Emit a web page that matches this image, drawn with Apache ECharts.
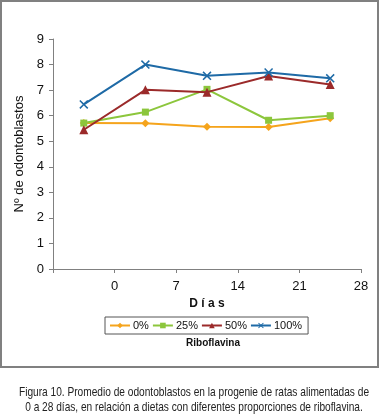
<!DOCTYPE html>
<html>
<head>
<meta charset="utf-8">
<script src="https://cdn.jsdelivr.net/npm/echarts@6/dist/echarts.min.js"></script>
<style>html,body{margin:0;padding:0;background:#fff}#c{width:380px;height:416px}</style>
</head>
<body>
<div id="c"></div>
<script>
// Data
const xPositions = [-3.5, 3.5, 10.5, 17.5, 24.5];
const xTickLabels = [0, 7, 14, 21, 28];
const seriesNames = ['0%', '25%', '50%', '100%'];
const s0 = [5.71, 5.70, 5.57, 5.56, 5.90];
const s25 = [5.71, 6.14, 7.03, 5.82, 6.00];
const s50 = [5.45, 7.01, 6.92, 7.55, 7.22];
const s100 = [6.44, 8.00, 7.56, 7.69, 7.46];
const yTicks = [0, 1, 2, 3, 4, 5, 6, 7, 8, 9];

const colors = ['#f5a41c', '#8cc63c', '#9b2a2a', '#1e6aa6'];
const symbols = ['diamond', 'rect', 'triangle',
  'path://M0,1.2L1.2,0L5,3.8L8.8,0L10,1.2L6.2,5L10,8.8L8.8,10L5,6.2L1.2,10L0,8.8L3.8,5Z'];
const symbolSizes = [8, 7, 9, 9];
const allData = [s0, s25, s50, s100];

const chart = echarts.init(document.getElementById('c'), null, {renderer: 'canvas'});
const font = 'Liberation Sans, Arial, sans-serif';
chart.setOption({
  animation: false,
  color: colors,
  grid: {left: 53, right: 19, top: 39, bottom: 147, containLabel: false},
  xAxis: {
    type: 'value', min: -7, max: 28, interval: 7,
    name: 'D í a s', nameLocation: 'middle', nameGap: 27,
    nameTextStyle: {fontFamily: font, fontSize: 12, fontWeight: 'bold', color: '#111'},
    axisLine: {show: true, onZero: false, lineStyle: {color: '#808080', width: 1}},
    axisTick: {show: true, length: 4, lineStyle: {color: '#808080'}},
    splitLine: {show: false},
    axisLabel: {
      fontFamily: font, fontSize: 13, color: '#111', margin: 11,
      formatter: v => (xTickLabels.indexOf(v) >= 0 ? String(v) : '')
    }
  },
  yAxis: {
    type: 'value', min: yTicks[0], max: yTicks[yTicks.length - 1], interval: 1,
    name: 'Nº de odontoblastos', nameLocation: 'middle', nameGap: 22, nameRotate: 90,
    nameTextStyle: {fontFamily: font, fontSize: 13, color: '#111'},
    axisLine: {show: true, onZero: false, lineStyle: {color: '#808080', width: 1}},
    axisTick: {show: true, length: 4, lineStyle: {color: '#808080'}},
    splitLine: {show: false},
    axisLabel: {fontFamily: font, fontSize: 13, color: '#111', margin: 9}
  },
  legend: {
    data: seriesNames,
    left: 105, top: 317,
    padding: [3, 6, 3, 4],
    itemGap: 3, itemWidth: 20, itemHeight: 7,
    borderColor: '#555', borderWidth: 1, borderRadius: 0,
    textStyle: {fontFamily: font, fontSize: 11, color: '#111', padding: [0, 0, 0, -2]}
  },
  graphic: [
    {type: 'rect', shape: {x: 1, y: 1, width: 377, height: 366}, style: {fill: 'none', stroke: '#808080', lineWidth: 2}, silent: true},
    {type: 'text', x: 213, y: 343, style: {text: 'Riboflavina', font: 'bold 10px ' + font, fill: '#111', align: 'center', verticalAlign: 'middle'}},
    {type: 'text', x: 194, y: 392, scaleX: 0.78, style: {text: 'Figura 10. Promedio de odontoblastos en la progenie de ratas alimentadas de', font: '13px ' + font, fill: '#222', align: 'center', verticalAlign: 'middle'}},
    {type: 'text', x: 194, y: 407, scaleX: 0.78, style: {text: '0 a 28 días, en relación a dietas con diferentes proporciones de riboflavina.', font: '13px ' + font, fill: '#222', align: 'center', verticalAlign: 'middle'}}
  ],
  series: seriesNames.map((name, i) => ({
    name: name,
    type: 'line',
    data: xPositions.map((x, j) => [x, allData[i][j]]),
    symbol: symbols[i],
    symbolSize: symbolSizes[i],
    showSymbol: true,
    lineStyle: {color: colors[i], width: 2},
    itemStyle: {color: colors[i], borderWidth: 0},
    z: 2 + (i === 1 ? 0 : i)
  }))
});
</script>
</body>
</html>
